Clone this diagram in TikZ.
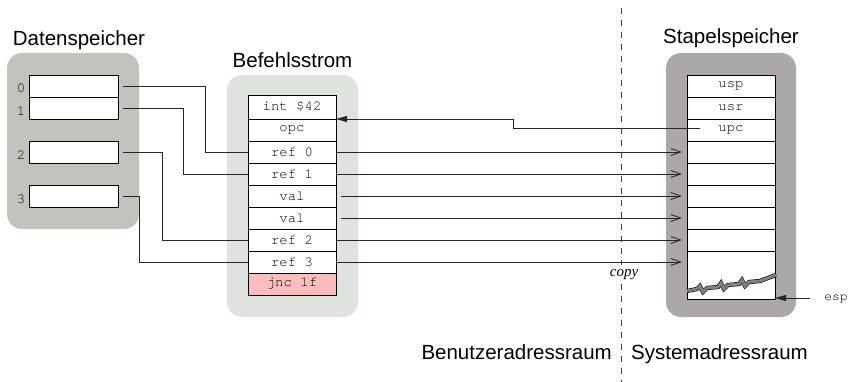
\documentclass[tikz,border=0pt]{standalone}
\usepackage{fontspec}
\setmainfont{Liberation Sans}
\setmonofont{TeX Gyre Cursor}
\newfontfamily\copyfont{Liberation Serif}
\usetikzlibrary{arrows.meta,positioning}

\definecolor{datagray}{RGB}{192,196,189}
\definecolor{cmdgray}{RGB}{223,227,222}
\definecolor{stackgray}{RGB}{171,167,170}
\definecolor{jncpink}{RGB}{255,188,188}

\tikzset{
  title/.style={font=\fontsize{20.5}{24}\selectfont, anchor=base, inner sep=0pt},
  cell/.style={draw, line width=0.8pt, fill=white, outer sep=0pt, inner sep=0pt,
    minimum width=88pt, minimum height=22pt, font=\ttfamily\fontsize{14}{16}\selectfont},
  idx/.style={font=\ttfamily\fontsize{14}{16}\selectfont, inner sep=0pt},
  wire/.style={line width=0.8pt, black!85},
  push/.style={wire, -{Straight Barb[length=10pt,width=7pt]}},
  back/.style={wire, -{Triangle[length=11pt,width=6pt]}},
}

\begin{document}
\begin{tikzpicture}[x=1pt,y=-1pt]
\useasboundingbox (0,0) rectangle (851,382);

% background boxes
\fill[datagray, rounded corners=15pt] (7,53) rectangle (139,229);
\fill[cmdgray, rounded corners=15pt] (227,75) rectangle (358,317);
\fill[stackgray, rounded corners=15pt] (666,53) rectangle (796,317);

\node[title] (dtitle) at (79,46) {Datenspeicher};
\node[title] (btitle) at (292.5,68) {Befehlsstrom};
\node[title] (stitle) at (731,44) {Stapelspeicher};

% Datenspeicher
\node[cell, minimum width=89pt] (d0) at (73.5,86) {};
\node[cell, minimum width=89pt] (d1) [below=0pt of d0] {};
\node[cell, minimum width=89pt] (d2) at (73.5,152) {};
\node[cell, minimum width=89pt] (d3) at (73.5,196) {};
\node[idx] (l0) at (21,88) {0};
\node[idx] (l1) at (21,111) {1};
\node[idx] (l2) at (21,155) {2};
\node[idx] (l3) at (21,199) {3};

% Befehlsstrom
\node[cell, minimum height=24pt] (int) at (292,107) {int \$42};
\node[cell] (opc) [below=0pt of int] {opc};
\node[cell] (ref0) [below=0pt of opc] {ref 0};
\node[cell] (ref1) [below=0pt of ref0] {ref 1};
\node[cell] (val0) [below=0pt of ref1] {val};
\node[cell] (val1) [below=0pt of val0] {val};
\node[cell] (ref2) [below=0pt of val1] {ref 2};
\node[cell] (ref3) [below=0pt of ref2] {ref 3};
\node[cell, fill=jncpink] (jnc) [below=0pt of ref3] {jnc 1f};

% Stapelspeicher
\node[cell] (s0) at (731,86) {usp};
\node[cell] (s1) [below=0pt of s0] {usr};
\node[cell] (s2) [below=0pt of s1] {upc};
\node[cell] (s3) [below=0pt of s2] {};
\node[cell] (s4) [below=0pt of s3] {};
\node[cell] (s5) [below=0pt of s4] {};
\node[cell] (s6) [below=0pt of s5] {};
\node[cell] (s7) [below=0pt of s6] {};
\node[cell] (s8) [below=0pt of s7] {};
\fill[white] (s8.south west) rectangle ++(88,26);
\draw[line width=0.8pt] (s8.south west) -- ++(0,26) -- ++(88,0) -- ++(0,-26);
\draw[line width=0.6pt, double=gray, double distance=3pt]
  (687,291) -- (697,289) -- (700,286) -- (703,292) -- (707,288) -- (718,287)
  -- (721,283) -- (724,289) -- (728,285) -- (739,284) -- (742,280) -- (745,286)
  -- (749,282) -- (760,281) -- (776,275);
\coordinate (sbot) at ([yshift=-25pt]s8.south east);

% references into the data
\draw[wire] ([xshift=5pt]d0.east) -- ++(82,0) |- (ref0.west);
\draw[wire] ([xshift=5pt]d1.east) -- ++(60,0) |- (ref1.west);
\draw[wire] ([xshift=5pt]d2.east) -- ++(39,0) |- (ref2.west);
\draw[wire] ([xshift=5pt]d3.east) -- ++(16,0) |- (ref3.west);

% copy onto the stack
\draw[push] (ref0.east) -- ([xshift=-5pt]s3.west);
\draw[push] (ref1.east) -- ([xshift=-5pt]s4.west);
\draw[push] ([xshift=5pt]val0.east) -- ([xshift=-5pt]s5.west);
\draw[push] ([xshift=5pt]val1.east) -- ([xshift=-5pt]s6.west);
\draw[push] (ref2.east) -- ([xshift=-5pt]s7.west);
\draw[push] (ref3.east) -- ([xshift=-5pt]s8.west);

\draw[back] ([shift={(-31pt,2pt)}]s2.center) -- ++(-187,0) |- (opc.north east);

\node[idx, font=\ttfamily\fontsize{13}{15}\selectfont] (esp) at (836,299) {esp};
\draw[back] ([xshift=-14pt]esp.west |- sbot) -- (sbot);

% address spaces
\draw[black!75, line width=1pt, dash pattern=on 6pt off 6pt] (621.5,8) -- (621.5,382);
\node[fill=white, inner sep=4pt, anchor=base, font=\copyfont\itshape\fontsize{15}{17}\selectfont] (copy) at (624,276) {copy};
\node[title, anchor=base east] (user) at (612,359) {Benutzeradressraum};
\node[title, anchor=base west] (sys) at (631,359) {Systemadressraum};
\end{tikzpicture}
\end{document}
